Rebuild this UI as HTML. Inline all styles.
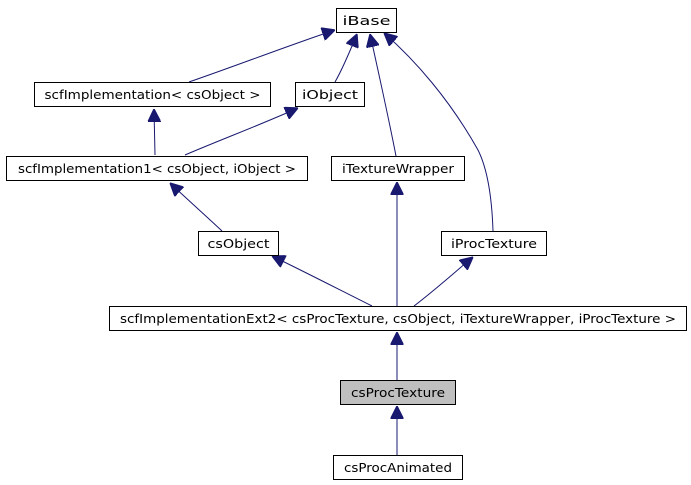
<!DOCTYPE html>
<html><head><meta charset="utf-8"><style>html,body{margin:0;padding:0;background:#fff;width:691px;height:485px;overflow:hidden}</style></head>
<body>
<svg width="691" height="485" viewBox="0 0 691 485" xmlns="http://www.w3.org/2000/svg" font-family="DejaVu Sans, Liberation Sans, sans-serif" font-size="12.5">
<defs><marker id="a" viewBox="0 0 10 10" refX="10" refY="5" markerWidth="13" markerHeight="13" markerUnits="userSpaceOnUse" orient="auto"><path d="M0,0L10,5L0,10z" fill="#191970" stroke="#191970"/></marker></defs>
<g fill="none" stroke="#191970" stroke-width="1" marker-end="url(#a)">
<path d="M189,82 C230,68 290,45 335,30"/>
<path d="M335,82 C342,70 348,56 357,34"/>
<path d="M396,156 C388,115 378,70 370,34"/>
<path d="M493,231 C492,200 488,170 478,150 C450,100 415,60 384,33"/>
<path d="M155,155 L154,109"/>
<path d="M185,155 C220,140 260,125 298,108"/>
<path d="M222,231 C205,215 188,200 170,183"/>
<path d="M372,306 C340,290 305,272 272,256"/>
<path d="M397,306 L397,182"/>
<path d="M414,306 C435,290 455,272 473,257"/>
<path d="M397,380 L397,332"/>
<path d="M397,455 L397,406"/>
</g>
<g stroke="#000" stroke-width="1" fill="#fff">
<rect x="336.5" y="8.5" width="60" height="24"/>
<rect x="34.5" y="82.5" width="236" height="24"/>
<rect x="295.5" y="82.5" width="69" height="24"/>
<rect x="6.5" y="156.5" width="301" height="24"/>
<rect x="331.5" y="156.5" width="133" height="24"/>
<rect x="198.5" y="231.5" width="80" height="24"/>
<rect x="441.5" y="231.5" width="105" height="24"/>
<rect x="109.5" y="306.5" width="577" height="24"/>
<rect x="340.5" y="380.5" width="115" height="24" fill="#bfbfbf"/>
<rect x="333.5" y="455.5" width="129" height="24"/>
</g>
<g fill="#000" text-anchor="middle">
<text x="366.5" y="25" textLength="48" lengthAdjust="spacingAndGlyphs">iBase</text>
<text x="152.5" y="99" textLength="216" lengthAdjust="spacingAndGlyphs">scfImplementation&lt; csObject &gt;</text>
<text x="330" y="99" textLength="56" lengthAdjust="spacingAndGlyphs">iObject</text>
<text x="157" y="173" textLength="278" lengthAdjust="spacingAndGlyphs">scfImplementation1&lt; csObject, iObject &gt;</text>
<text x="398" y="173" textLength="112" lengthAdjust="spacingAndGlyphs">iTextureWrapper</text>
<text x="238.5" y="248" textLength="62" lengthAdjust="spacingAndGlyphs">csObject</text>
<text x="494" y="248" textLength="86" lengthAdjust="spacingAndGlyphs">iProcTexture</text>
<text x="398" y="323" textLength="556" lengthAdjust="spacingAndGlyphs">scfImplementationExt2&lt; csProcTexture, csObject, iTextureWrapper, iProcTexture &gt;</text>
<text x="398" y="397" textLength="94" lengthAdjust="spacingAndGlyphs">csProcTexture</text>
<text x="398" y="472" textLength="108" lengthAdjust="spacingAndGlyphs">csProcAnimated</text>
</g>
</svg>
</body></html>
